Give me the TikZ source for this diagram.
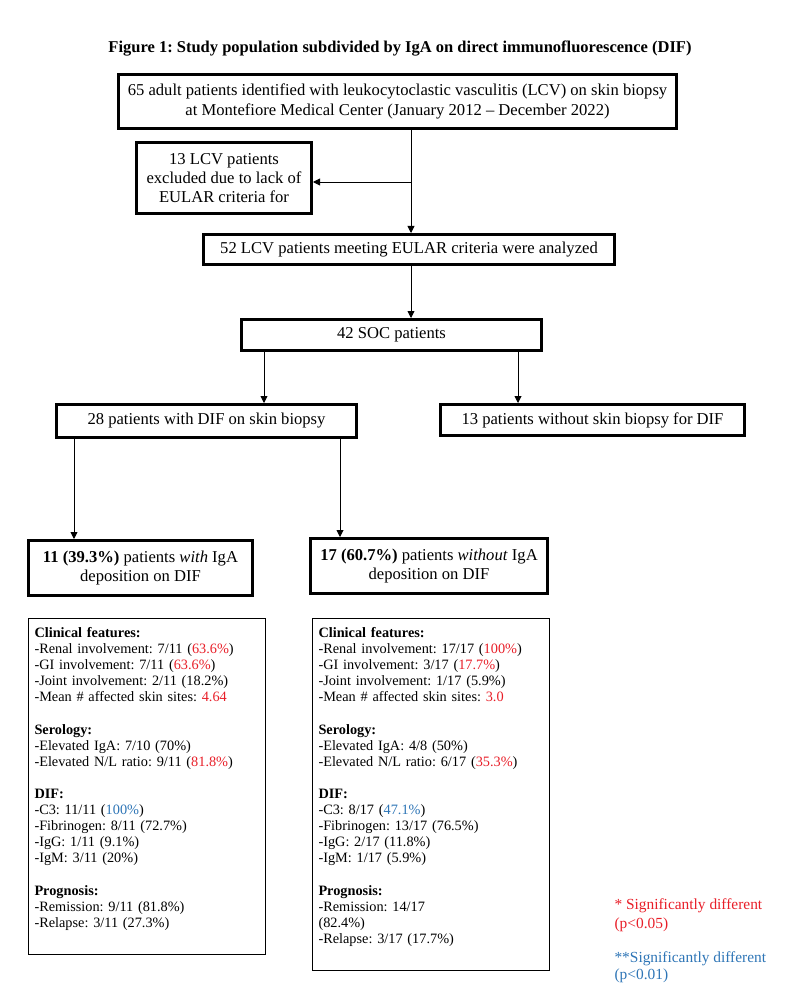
\documentclass[tikz,border=0pt]{standalone}
\usepackage{fontspec}
\setmainfont{Liberation Serif}
\usetikzlibrary{arrows.meta}
\frenchspacing
\definecolor{sigred}{RGB}{232,30,40}
\definecolor{sigblue}{RGB}{46,117,182}
\newcommand{\sigr}[1]{\textcolor{sigred}{#1}}
\newcommand{\sigb}[1]{\textcolor{sigblue}{#1}}
\begin{document}
\begin{tikzpicture}[x=1pt, y=-1pt]
    \tikzstyle{box}=[draw, line width=3pt, inner sep=0pt, align=center, font=\fontsize{16.6}{19.3}\selectfont]
    \tikzstyle{lst}=[draw, line width=1pt, anchor=north west, inner xsep=6pt, inner ysep=9pt, text width=225pt, align=left, font=\fontsize{14.3}{16.1}\selectfont]
    \tikzstyle{arr}=[-{Triangle[length=7pt, width=7pt]}, line width=0.9pt]
    \useasboundingbox (0,0) rectangle (802,1008);
    \node[font=\fontsize{16.5}{19}\selectfont\bfseries] (title) at (400,49) {Figure 1: Study population subdivided by IgA on direct immunofluorescence (DIF)};
    \node[box, minimum width=558, minimum height=54] (top) at (397.5,101.5) {65 adult patients identified with leukocytoclastic vasculitis (LCV) on skin biopsy\\at Montefiore Medical Center (January 2012 -- December 2022)};
    \node[box, minimum width=175, minimum height=71] (excl) at (224,178) {13 LCV patients\\excluded due to lack of\\EULAR criteria for};
    \node[box, minimum width=411, minimum height=30] (anal) at (409,249.5) {52 LCV patients meeting EULAR criteria were analyzed};
    \node[box, minimum width=300, minimum height=31] (soc) at (391.5,335) {42 SOC patients};
    \node[box, minimum width=300, minimum height=33] (dif) at (206.5,421) {28 patients with DIF on skin biopsy};
    \node[box, minimum width=304, minimum height=31] (nodif) at (592.5,420) {13 patients without skin biopsy for DIF};
    \node[box, minimum width=224, minimum height=55] (igapos) at (140.5,568) {\textbf{11 (39.3\%)} patients \textit{with} IgA\\deposition on DIF};
    \node[box, minimum width=237, minimum height=55] (iganeg) at (429,566) {\textbf{17 (60.7\%)} patients \textit{without} IgA\\deposition on DIF};
    \node[lst] (pos) at (28,618) {\textbf{Clinical features:}\\
        -Renal involvement: 7/11 (\sigr{63.6\%})\\
        -GI involvement: 7/11 (\sigr{63.6\%})\\
        -Joint involvement: 2/11 (18.2\%)\\
        -Mean \# affected skin sites: \sigr{4.64}\\[16.1pt]
        \textbf{Serology:}\\
        -Elevated IgA: 7/10 (70\%)\\
        -Elevated N/L ratio: 9/11 (\sigr{81.8\%})\\[16.1pt]
        \textbf{DIF:}\\
        -C3: 11/11 (\sigb{100\%})\\
        -Fibrinogen: 8/11 (72.7\%)\\
        -IgG: 1/11 (9.1\%)\\
        -IgM: 3/11 (20\%)\\[16.1pt]
        \textbf{Prognosis:}\\
        -Remission: 9/11 (81.8\%)\\
        -Relapse: 3/11 (27.3\%)\\[2pt]\mbox{}};
    \node[lst] (neg) at (312,618) {\textbf{Clinical features:}\\
        -Renal involvement: 17/17 (\sigr{100\%})\\
        -GI involvement: 3/17 (\sigr{17.7\%})\\
        -Joint involvement: 1/17 (5.9\%)\\
        -Mean \# affected skin sites: \sigr{3.0}\\[16.1pt]
        \textbf{Serology:}\\
        -Elevated IgA: 4/8 (50\%)\\
        -Elevated N/L ratio: 6/17 (\sigr{35.3\%})\\[16.1pt]
        \textbf{DIF:}\\
        -C3: 8/17 (\sigb{47.1\%})\\
        -Fibrinogen: 13/17 (76.5\%)\\
        -IgG: 2/17 (11.8\%)\\
        -IgM: 1/17 (5.9\%)\\[16.1pt]
        \textbf{Prognosis:}\\
        -Remission: 14/17\\
        (82.4\%)\\
        -Relapse: 3/17 (17.7\%)\\[2pt]\mbox{}};
    \node[anchor=west, align=left, text=sigred, font=\fontsize{15.4}{19.5}\selectfont] (sig1) at (611,915) {* Significantly different\\(p<0.05)};
    \node[anchor=west, align=left, text=sigblue, font=\fontsize{15.4}{17.5}\selectfont] (sig2) at (611,967) {**Significantly different\\(p<0.01)};
    \coordinate (j1) at (411,182);
    \draw[arr] (top.south -| j1) -- (anal.north -| j1);
    \draw[arr] (j1) -- (excl.east |- j1);
    \draw[arr] (anal.south -| j1) -- (soc.north -| j1);
    \draw[arr] ([xshift=-127.5pt]soc.south) coordinate (s1) -- (s1 |- dif.north);
    \draw[arr] ([xshift=126.5pt]soc.south) coordinate (s2) -- (s2 |- nodif.north);
    \draw[arr] ([xshift=-132.5pt]dif.south) coordinate (d1) -- (d1 |- igapos.north);
    \draw[arr] ([xshift=133.5pt]dif.south) coordinate (d2) -- (d2 |- iganeg.north);
\end{tikzpicture}
\end{document}
